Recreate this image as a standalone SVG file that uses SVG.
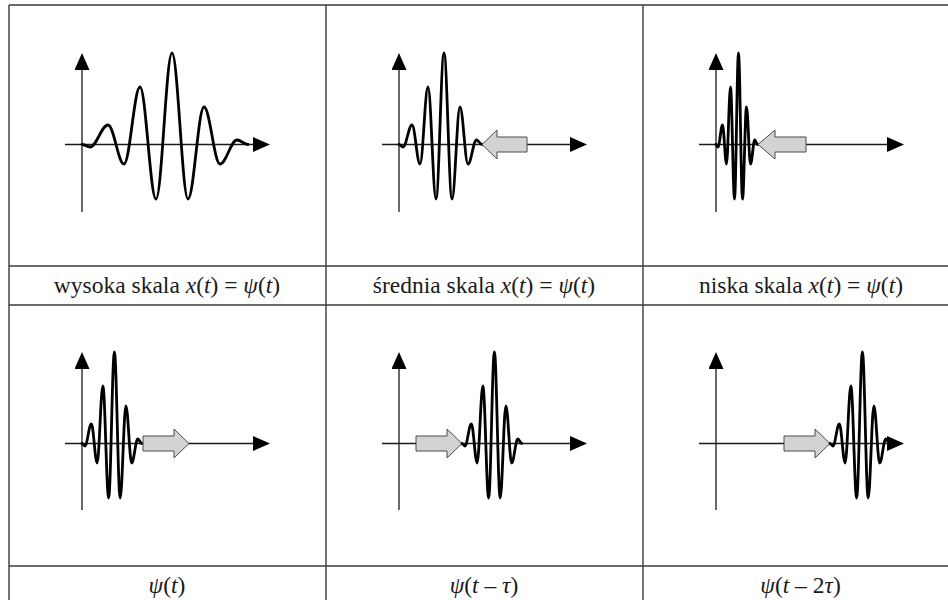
<svg xmlns="http://www.w3.org/2000/svg" xmlns:xlink="http://www.w3.org/1999/xlink" width="948" height="600" viewBox="0 0 948 600">
<style>
.grid{stroke:#3a3a3a;stroke-width:1.4;fill:none}
.axis{stroke:#1a1a1a;stroke-width:1.3;fill:none}
.wave{stroke:#000;stroke-width:2.8;fill:none;stroke-linejoin:round;stroke-linecap:round}
.garrow{fill:#d2d3d5;stroke:#4a4a4a;stroke-width:1}
.cap{font-family:"Liberation Serif","Times New Roman",Times,serif;font-size:23.5px;fill:#1a1a1a;text-anchor:middle}
.it{font-style:italic}
</style>
<defs>
<marker id="ah" viewBox="0 0 17 15" refX="0" refY="7.5" markerWidth="17" markerHeight="15" markerUnits="userSpaceOnUse" orient="auto">
<path d="M0,0 L17,7.5 L0,15 z" fill="#000"/>
</marker>
<path id="psi" class="wave" vector-effect="non-scaling-stroke" d="M0,0 C2.91,0 5.09,2.5 8,2.5 C14.54,2.5 19.46,-19.5 26,-19.5 C31.81,-19.5 36.19,19.5 42,19.5 C47.81,19.5 52.19,-57.5 58,-57.5 C63.81,-57.5 68.19,54.5 74,54.5 C79.81,54.5 84.19,-91.5 90,-91.5 C95.81,-91.5 100.19,54.5 106,54.5 C111.81,54.5 116.19,-37.5 122,-37.5 C127.81,-37.5 132.19,19.5 138,19.5 C144.18,19.5 148.82,-4.5 155,-4.5 C159,-4.5 162,0 166,0"/>
</defs>
<rect width="948" height="600" fill="#fff"/>
<g id="grid">
<line class="grid" x1="9" y1="5" x2="948" y2="5"/>
<line class="grid" x1="9" y1="266" x2="948" y2="266"/>
<line class="grid" x1="9" y1="305" x2="948" y2="305"/>
<line class="grid" x1="9" y1="566" x2="948" y2="566"/>
<line class="grid" x1="9" y1="5" x2="9" y2="600"/>
<line class="grid" x1="326" y1="5" x2="326" y2="600"/>
<line class="grid" x1="643" y1="5" x2="643" y2="600"/>
</g>
<g id="connectors">
<line class="axis" x1="82" y1="212" x2="82" y2="70" marker-end="url(#ah)"/>
<line class="axis" x1="65" y1="144.5" x2="253" y2="144.5" marker-end="url(#ah)"/>
<line class="axis" x1="399" y1="212" x2="399" y2="70" marker-end="url(#ah)"/>
<line class="axis" x1="382" y1="144.5" x2="570" y2="144.5" marker-end="url(#ah)"/>
<line class="axis" x1="716" y1="212" x2="716" y2="70" marker-end="url(#ah)"/>
<line class="axis" x1="699" y1="144.5" x2="887" y2="144.5" marker-end="url(#ah)"/>
<line class="axis" x1="82" y1="510" x2="82" y2="369" marker-end="url(#ah)"/>
<line class="axis" x1="65" y1="443.5" x2="253" y2="443.5" marker-end="url(#ah)"/>
<line class="axis" x1="399" y1="510" x2="399" y2="369" marker-end="url(#ah)"/>
<line class="axis" x1="382" y1="443.5" x2="570" y2="443.5" marker-end="url(#ah)"/>
<line class="axis" x1="716" y1="510" x2="716" y2="369" marker-end="url(#ah)"/>
<line class="axis" x1="699" y1="443.5" x2="887" y2="443.5" marker-end="url(#ah)"/>
</g>
<g id="panel-high">
<use xlink:href="#psi" href="#psi" transform="translate(82,144.5)"/>
<text class="cap" x="167" y="293">wysoka skala <tspan class="it">x</tspan>(<tspan class="it">t</tspan>) = <tspan class="it">ψ</tspan>(<tspan class="it">t</tspan>)</text>
</g>
<g id="panel-mid">
<use xlink:href="#psi" href="#psi" transform="translate(399,144.5) scale(0.5,1)"/>
<polygon class="garrow" points="482,144.5 497,130 497,137 527,137 527,152 497,152 497,159"/>
<text class="cap" x="484" y="293">średnia skala <tspan class="it">x</tspan>(<tspan class="it">t</tspan>) = <tspan class="it">ψ</tspan>(<tspan class="it">t</tspan>)</text>
</g>
<g id="panel-low">
<use xlink:href="#psi" href="#psi" transform="translate(716,144.5) scale(0.25,1)"/>
<polygon class="garrow" points="758,144.5 775,130 775,137 806,137 806,152 775,152 775,159"/>
<text class="cap" x="801" y="293">niska skala <tspan class="it">x</tspan>(<tspan class="it">t</tspan>) = <tspan class="it">ψ</tspan>(<tspan class="it">t</tspan>)</text>
</g>
<g id="panel-shift0">
<polygon class="garrow" points="143,436 174,436 174,429 189,443.5 174,458 174,451 143,451"/>
<use xlink:href="#psi" href="#psi" transform="translate(82,443.5) scale(0.36,1)"/>
<text class="cap" x="167" y="593"><tspan class="it">ψ</tspan>(<tspan class="it">t</tspan>)</text>
</g>
<g id="panel-shift1">
<polygon class="garrow" points="416,436 447,436 447,429 462,443.5 447,458 447,451 416,451"/>
<use xlink:href="#psi" href="#psi" transform="translate(462,443.5) scale(0.36,1)"/>
<text class="cap" x="484" y="593"><tspan class="it">ψ</tspan>(<tspan class="it">t</tspan> – <tspan class="it">τ</tspan>)</text>
</g>
<g id="panel-shift2">
<polygon class="garrow" points="784,436 815,436 815,429 830,443.5 815,458 815,451 784,451"/>
<use xlink:href="#psi" href="#psi" transform="translate(830,443.5) scale(0.36,1)"/>
<text class="cap" x="800.5" y="593"><tspan class="it">ψ</tspan>(<tspan class="it">t</tspan> – 2<tspan class="it">τ</tspan>)</text>
</g>
</svg>
